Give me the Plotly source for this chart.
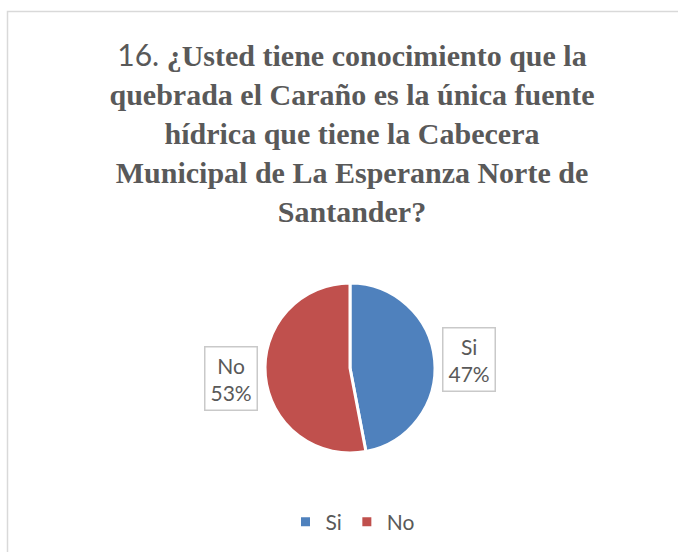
import math
import plotly.graph_objects as go

# ---- data ----
categories = ["Si", "No"]
values = [47, 53]
colors = ["#4F81BD", "#C0504D"]
title_lines = [
    "¿Usted tiene conocimiento que la",
    "quebrada el Caraño es la única fuente",
    "hídrica que tiene la Cabecera",
    "Municipal de La Esperanza Norte de",
    "Santander?",
]
question_number = "16."

W, H = 678, 552
CX, CY, R = 350, 368, 85  # pie center / radius in px

fig = go.Figure()
fig.add_trace(go.Pie(
    labels=categories,
    values=values,
    marker=dict(colors=colors, line=dict(color="white", width=3)),
    sort=False,
    direction="clockwise",
    rotation=0,
    textinfo="none",
    hoverinfo="label+percent",
    domain=dict(x=[(CX - R) / W, (CX + R) / W], y=[1 - (CY + R) / H, 1 - (CY - R) / H]),
))

# data labels positioned from slice mid-angles
total = sum(values)
cum = 0
nudges = {"Si": (0, 3), "No": (0, -1)}
for lab, v in zip(categories, values):
    mid = (cum + v / 2) / total * 2 * math.pi
    cum += v
    px = CX + 1.41 * R * math.sin(mid) + nudges[lab][0]
    py = CY - 1.41 * R * math.cos(mid) + nudges[lab][1]
    pct = round(v / total * 100)
    fig.add_annotation(
        x=px / W, y=1 - py / H, xref="paper", yref="paper",
        xanchor="center", yanchor="middle",
        text=f"{lab}<br>{pct}%", showarrow=False,
        font=dict(family="Lato, 'Open Sans', sans-serif", size=21, color="#595959"),
        bordercolor="#C9C9C9", borderwidth=1.5, borderpad=5, bgcolor="white",
        align="center",
    )

title_text = (f"<span style='font-family:Lato;font-weight:normal'>{question_number}</span> "
              + "<br>".join(title_lines))

fig.update_layout(
    width=W, height=H,
    margin=dict(l=0, r=0, t=0, b=0),
    paper_bgcolor="white",
    plot_bgcolor="white",
    title=dict(
        text=title_text,
        x=352 / W, xanchor="center",
        y=1 - 66 / H, yanchor="top",
        font=dict(family="'Liberation Serif', 'Times New Roman', serif", size=30, color="#595959", weight="bold"),
    ),
    showlegend=True,
    legend=dict(
        orientation="h", x=353 / W, xanchor="center", y=1 - 522 / H, yanchor="middle",
        font=dict(family="Lato, 'Open Sans', sans-serif", size=21, color="#595959"),
        itemwidth=30,
    ),
    shapes=[dict(
        type="rect", xref="paper", yref="paper",
        x0=7.5 / W, x1=1.05, y0=-0.05, y1=1 - 11.5 / H,
        line=dict(color="#D9D9D9", width=1.5), fillcolor="rgba(0,0,0,0)", layer="below",
    )],
)

fig.write_html("out.html", config={"displayModeBar": False},
               post_script="document.body.style.margin='0';")
